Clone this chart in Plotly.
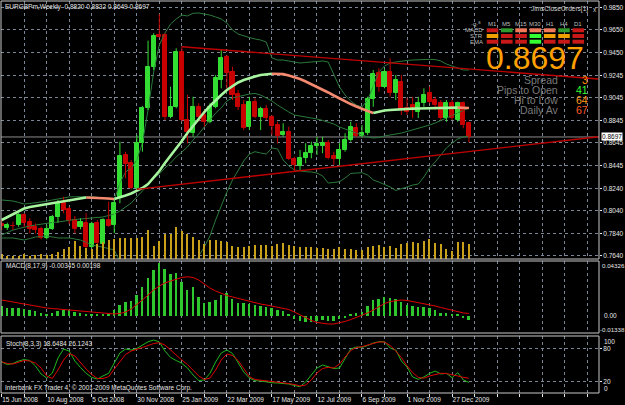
import plotly.graph_objects as go

# ---------------- data ----------------
tick_labels = ["15 Jun 2008", "10 Aug 2008", "5 Oct 2008", "30 Nov 2008", "25 Jan 2009",
               "22 Mar 2009", "17 May 2009", "12 Jul 2009", "6 Sep 2009", "1 Nov 2009", "27 Dec 2009"]

open_ = [0.7922, 0.7887, 0.7905, 0.7914, 0.8003, 0.7943, 0.7898, 0.7875, 0.7795, 0.7875,
         0.7982, 0.8112, 0.8053, 0.7958, 0.7898, 0.7934, 0.7720, 0.7929, 0.7744, 0.7958,
         0.7914, 0.8151, 0.8534, 0.8463, 0.8240, 0.8646, 0.8952, 0.9317, 0.9604, 0.9604,
         0.8877, 0.8961, 0.9456, 0.8848, 0.8730, 0.8966, 0.8893, 0.8833, 0.8966, 0.9204,
         0.9406, 0.9278, 0.9077, 0.8982, 0.8788, 0.9011, 0.8877, 0.8943, 0.8872, 0.8804,
         0.8714, 0.8739, 0.8498, 0.8439, 0.8507, 0.8552, 0.8619, 0.8619, 0.8646, 0.8528,
         0.8498, 0.8581, 0.8670, 0.8779, 0.8706, 0.8735, 0.9035, 0.9269, 0.9144, 0.9278,
         0.9086, 0.9189, 0.8955, 0.8982, 0.8922, 0.8997, 0.9086, 0.9026, 0.9002, 0.8863,
         0.9002, 0.8848, 0.9002, 0.8820]
high = [0.7958, 0.7934, 0.7943, 0.8018, 0.8018, 0.7973, 0.7929, 0.7898, 0.7914, 0.8003,
        0.8136, 0.8165, 0.8076, 0.7994, 0.7973, 0.8018, 0.7943, 0.7958, 0.7973, 0.8121,
        0.8136, 0.8655, 0.8566, 0.8492, 0.8714, 0.8973, 0.9554, 0.9620, 0.9791, 0.9620,
        0.9144, 0.9486, 0.9500, 0.9071, 0.9055, 0.8997, 0.8937, 0.8997, 0.9249, 0.9477,
        0.9427, 0.9322, 0.9115, 0.9026, 0.9055, 0.9041, 0.8966, 0.8982, 0.8893, 0.8833,
        0.8819, 0.8788, 0.8521, 0.8581, 0.8641, 0.8655, 0.8699, 0.8699, 0.8670, 0.8566,
        0.8641, 0.8730, 0.8833, 0.8819, 0.8804, 0.9055, 0.9293, 0.9308, 0.9308, 0.9397,
        0.9249, 0.9249, 0.9044, 0.9055, 0.9055, 0.9130, 0.9144, 0.9055, 0.9026, 0.9026,
        0.9026, 0.9011, 0.9011, 0.8832]
low = [0.7869, 0.7869, 0.7869, 0.7898, 0.7898, 0.7840, 0.7840, 0.7786, 0.7786, 0.7869,
       0.7934, 0.8018, 0.7922, 0.7840, 0.7875, 0.7706, 0.7706, 0.7736, 0.7727, 0.7898,
       0.7840, 0.8107, 0.8329, 0.8231, 0.8231, 0.8566, 0.8937, 0.9293, 0.9582, 0.8848,
       0.8863, 0.8952, 0.8833, 0.8641, 0.8699, 0.8833, 0.8788, 0.8819, 0.8952, 0.9130,
       0.9130, 0.9026, 0.8937, 0.8759, 0.8759, 0.8863, 0.8759, 0.8848, 0.8714, 0.8641,
       0.8699, 0.8492, 0.8394, 0.8403, 0.8463, 0.8507, 0.8537, 0.8552, 0.8498, 0.8448,
       0.8448, 0.8566, 0.8655, 0.8694, 0.8694, 0.8714, 0.8966, 0.9100, 0.9130, 0.9055,
       0.9026, 0.8893, 0.8893, 0.8866, 0.8866, 0.8966, 0.8997, 0.8937, 0.8848, 0.8833,
       0.8848, 0.8833, 0.8774, 0.8649]
close = [0.7905, 0.7914, 0.7903, 0.8003, 0.7934, 0.7875, 0.7869, 0.7795, 0.7875, 0.7982,
         0.8107, 0.8047, 0.7952, 0.7875, 0.7943, 0.7720, 0.7920, 0.7751, 0.7958, 0.7905,
         0.8107, 0.8528, 0.8456, 0.8240, 0.8646, 0.8952, 0.9317, 0.9598, 0.9589, 0.8872,
         0.8961, 0.9456, 0.8848, 0.8744, 0.8966, 0.8872, 0.8833, 0.8966, 0.9219, 0.9397,
         0.9269, 0.9071, 0.8966, 0.8779, 0.9011, 0.8877, 0.8943, 0.8863, 0.8795, 0.8706,
         0.8741, 0.8498, 0.8448, 0.8507, 0.8557, 0.8617, 0.8634, 0.8646, 0.8513, 0.8498,
         0.8581, 0.8670, 0.8788, 0.8706, 0.8735, 0.9035, 0.9257, 0.9144, 0.9278, 0.9086,
         0.9204, 0.8937, 0.8922, 0.8937, 0.9002, 0.9071, 0.9011, 0.8982, 0.8863, 0.9002,
         0.8863, 0.8997, 0.8804, 0.8697]
volume = [5, 3, 3, 3, 5, 3, 4, 5, 4, 5, 7, 10, 12, 18, 13, 11, 10, 15, 17, 19,
          20, 21, 21, 21, 21, 22, 29, 13, 18, 25, 25, 32, 28, 25, 22, 19, 15, 19, 19, 18,
          17, 13, 12, 12, 13, 14, 14, 14, 13, 15, 16, 14, 13, 12, 12, 12, 11, 11, 10, 10,
          12, 10, 10, 9, 9, 12, 13, 14, 12, 13, 11, 15, 16, 17, 16, 18, 20, 16, 15, 10,
          8, 17, 17, 15]
ma_slow = [0.7958, 0.7985, 0.8011, 0.8038, 0.8060, 0.8074, 0.8083, 0.8091, 0.8100, 0.8109,
           0.8118, 0.8127, 0.8136, 0.8142, 0.8151, 0.8158, 0.8157, 0.8156, 0.8154, 0.8149,
           0.8145, 0.8158, 0.8176, 0.8194, 0.8216, 0.8243, 0.8278, 0.8332, 0.8394, 0.8465,
           0.8528, 0.8599, 0.8661, 0.8732, 0.8795, 0.8866, 0.8919, 0.8973, 0.9026, 0.9070,
           0.9115, 0.9151, 0.9182, 0.9204, 0.9222, 0.9235, 0.9248, 0.9256, 0.9259, 0.9258,
           0.9256, 0.9244, 0.9231, 0.9213, 0.9191, 0.9168, 0.9146, 0.9119, 0.9093, 0.9066,
           0.9039, 0.9013, 0.8990, 0.8968, 0.8946, 0.8928, 0.8910, 0.8924, 0.8933, 0.8937,
           0.8941, 0.8944, 0.8946, 0.8949, 0.8950, 0.8952, 0.8953, 0.8955, 0.8956, 0.8957,
           0.8958, 0.8958, 0.8957, 0.8955]
bb_upper = [0.8136, 0.8132, 0.8127, 0.8114, 0.8100, 0.8105, 0.8109, 0.8118, 0.8127, 0.8136,
            0.8145, 0.8154, 0.8163, 0.8165, 0.8167, 0.8167, 0.8165, 0.8161, 0.8154, 0.8145,
            0.8136, 0.8287, 0.8385, 0.8421, 0.8492, 0.8643, 0.8937, 0.9275, 0.9515, 0.9622,
            0.9702, 0.9747, 0.9782, 0.9774, 0.9798, 0.9800, 0.9791, 0.9782, 0.9765, 0.9747,
            0.9711, 0.9649, 0.9613, 0.9596, 0.9582, 0.9569, 0.9560, 0.9542, 0.9400, 0.9382,
            0.9382, 0.9373, 0.9364, 0.9355, 0.9360, 0.9364, 0.9369, 0.9373, 0.9364, 0.9248,
            0.9142, 0.9070, 0.9017, 0.8981, 0.8964, 0.9026, 0.9159, 0.9275, 0.9329, 0.9355,
            0.9364, 0.9373, 0.9378, 0.9382, 0.9386, 0.9388, 0.9388, 0.9386, 0.9373, 0.9346,
            0.9329, 0.9311, 0.9293, 0.9293]
bb_middle = [0.7824, 0.7847, 0.7869, 0.7882, 0.7896, 0.7905, 0.7913, 0.7922, 0.7929, 0.7936,
             0.7940, 0.7949, 0.7958, 0.7962, 0.7967, 0.7971, 0.7976, 0.7980, 0.7985, 0.7998,
             0.8011, 0.8038, 0.8074, 0.8109, 0.8163, 0.8216, 0.8269, 0.8332, 0.8367, 0.8421,
             0.8465, 0.8519, 0.8563, 0.8608, 0.8670, 0.8723, 0.8786, 0.8848, 0.8910, 0.8955,
             0.9017, 0.9044, 0.9057, 0.9070, 0.9079, 0.9084, 0.9070, 0.9044, 0.9017, 0.8981,
             0.8946, 0.8919, 0.8892, 0.8884, 0.8875, 0.8866, 0.8857, 0.8844, 0.8830, 0.8812,
             0.8786, 0.8768, 0.8750, 0.8732, 0.8714, 0.8697, 0.8688, 0.8692, 0.8706, 0.8714,
             0.8723, 0.8732, 0.8746, 0.8759, 0.8772, 0.8786, 0.8803, 0.8821, 0.8844, 0.8866,
             0.8892, 0.8915, 0.8937, 0.8955]
bb_lower = [0.7798, 0.7798, 0.7798, 0.7789, 0.7780, 0.7793, 0.7807, 0.7811, 0.7816, 0.7807,
            0.7798, 0.7798, 0.7798, 0.7789, 0.7780, 0.7758, 0.7735, 0.7727, 0.7718, 0.7704,
            0.7691, 0.7584, 0.7531, 0.7468, 0.7406, 0.7335, 0.7246, 0.7157, 0.7086, 0.7068,
            0.7086, 0.7157, 0.7246, 0.7353, 0.7495, 0.7638, 0.7718, 0.7816, 0.7958, 0.8091,
            0.8207, 0.8314, 0.8403, 0.8483, 0.8545, 0.8566, 0.8554, 0.8545, 0.8599, 0.8590,
            0.8492, 0.8439, 0.8403, 0.8394, 0.8388, 0.8385, 0.8376, 0.8350, 0.8287, 0.8292,
            0.8299, 0.8332, 0.8372, 0.8376, 0.8379, 0.8358, 0.8314, 0.8296, 0.8274, 0.8252,
            0.8221, 0.8234, 0.8252, 0.8269, 0.8278, 0.8341, 0.8421, 0.8474, 0.8536, 0.8599,
            0.8643, 0.8679, 0.8697, 0.8706]
trend_upper_x = [32, 106]
trend_upper_y = [0.9500, 0.9213]
trend_lower_x = [24, 106]
trend_lower_y = [0.8231, 0.8699]

macd_main = [0.0079, 0.0061, 0.0061, 0.0061, 0.0053, 0.0047, 0.0039, 0.0021, 0.0008, 0.0026,
             0.0042, 0.0047, 0.0047, 0.0034, 0.0021, 0.0008, 0.0016, 0.0013, 0.0008, 0.0008,
             0.0047, 0.0087, 0.0113, 0.0120, 0.0165, 0.0231, 0.0297, 0.0362, 0.0419, 0.0367,
             0.0330, 0.0336, 0.0270, 0.0205, 0.0231, 0.0152, 0.0100, 0.0113, 0.0126, 0.0165,
             0.0179, 0.0131, 0.0100, 0.0100, 0.0094, 0.0087, 0.0079, 0.0071, 0.0063, 0.0047,
             0.0039, 0.0016, -0.0024, -0.0039, -0.0047, -0.0047, -0.0039, -0.0031, -0.0039, -0.0039,
             -0.0024, -0.0008, 0.0016, 0.0024, 0.0031, 0.0079, 0.0126, 0.0134, 0.0149, 0.0142,
             0.0134, 0.0110, 0.0087, 0.0079, 0.0071, 0.0071, 0.0063, 0.0047, 0.0024, 0.0024,
             0.0008, 0.0008, -0.0008, -0.00345]
macd_signal = [0.0126, 0.0118, 0.0110, 0.0102, 0.0091, 0.0083, 0.0075, 0.0067, 0.0063, 0.0059,
               0.0055, 0.0050, 0.0047, 0.0043, 0.0039, 0.0035, 0.0031, 0.0028, 0.0024, 0.0020,
               0.0016, 0.0020, 0.0031, 0.0055, 0.0087, 0.0126, 0.0165, 0.0205, 0.0236, 0.0260,
               0.0275, 0.0291, 0.0303, 0.0309, 0.0303, 0.0283, 0.0252, 0.0220, 0.0197, 0.0177,
               0.0161, 0.0150, 0.0138, 0.0126, 0.0113, 0.0102, 0.0094, 0.0087, 0.0079, 0.0071,
               0.0063, 0.0051, 0.0031, 0.0008, -0.0016, -0.0035, -0.0051, -0.0059, -0.0063, -0.0063,
               -0.0055, -0.0043, -0.0028, -0.0012, 0.0004, 0.0024, 0.0047, 0.0075, 0.0098, 0.0114,
               0.0122, 0.0126, 0.0122, 0.0114, 0.0106, 0.0098, 0.0091, 0.0079, 0.0067, 0.0055,
               0.0043, 0.0031, 0.0024, 0.00198]
stoch_k = [55.3, 50.8, 52.6, 57.1, 59.8, 58.0, 48.1, 33.8, 26.6, 35.5,
           62.5, 78.6, 75.0, 57.1, 45.4, 35.0, 27.5, 24.8, 30.2, 35.0,
           53.5, 71.5, 78.6, 76.8, 79.5, 84.9, 91.7, 94.8, 91.2, 75.0,
           63.4, 58.0, 53.0, 44.5, 32.0, 22.1, 23.0, 35.0, 55.3, 71.5,
           76.8, 70.6, 53.5, 37.3, 26.6, 21.7, 21.2, 19.4, 18.1, 17.6,
           17.1, 15.8, 13.1, 11.0, 19.4, 32.0, 44.5, 49.9, 47.2, 43.6,
           44.5, 62.5, 78.6, 82.2, 81.7, 84.9, 89.4, 91.7, 91.7, 80.4,
           76.8, 57.1, 46.3, 28.4, 24.2, 28.4, 34.6, 39.1, 33.8, 35.0,
           27.1, 36.1, 23.0, 18.6484]
stoch_d = [55.8, 52.6, 51.7, 55.3, 58.0, 57.1, 53.5, 44.5, 30.2, 25.7,
           40.9, 58.9, 70.9, 66.1, 53.5, 42.7, 32.9, 25.7, 25.7, 28.9,
           42.7, 55.3, 68.8, 75.0, 77.7, 81.3, 84.9, 88.5, 89.9, 85.8,
           76.8, 67.0, 58.9, 50.8, 40.9, 30.2, 23.9, 26.6, 40.9, 58.9,
           69.7, 67.0, 58.0, 42.7, 28.9, 23.9, 22.4, 21.2, 20.3, 19.0,
           18.0, 16.7, 14.9, 12.2, 14.0, 23.0, 35.5, 43.6, 45.8, 44.5,
           51.7, 64.3, 75.9, 81.3, 82.8, 85.8, 88.5, 91.2, 91.2, 84.9,
           75.0, 63.4, 48.1, 36.4, 27.5, 26.2, 30.2, 32.9, 35.0, 34.6,
           32.9, 30.2, 27.8, 26.1243]

price_ticks = [0.9850, 0.9650, 0.9450, 0.9245, 0.9045, 0.8845, 0.8645, 0.8445, 0.8240, 0.8040, 0.7840, 0.7640]

panel_timeframes = ["M1", "M5", "M15", "M30", "H1", "H4", "D1"]
panel_rows = ["MACD", "STR", "EMA"]
panel_states = [
    ["red", "dgreen", "salmon", "salmon", "salmon", "dgreen", "red"],
    ["orange", "red", "red", "lime", "orange", "orange", "red"],
    ["red", "red", "red", "lime", "red", "red", "red"],
]
info_labels = ["Spread", "Pips to Open", "Hi to Low", "Daily Av"]
info_values = ["3", "41", "64", "67"]

# ---------------- geometry / style ----------------
W, H = 625, 405
ML, MR, MT, MB = 1, 26, 1, 12
PW, PH = W - ML - MR, H - MT - MB
BOT = H - MB


def pxx(x):
    return (x - ML) / PW


def pxy(y):
    return (BOT - y) / PH


FONT = "Liberation Sans, Arial, sans-serif"
TXT = "#e6e6e6"
GRID = "#7a8696"
BULL = "#33dd33"
BEAR = "#c80000"
BBC = "#2b7a3c"
VOLC = "#c9a019"
STATE_COL = {"red": "#c81818", "dgreen": "#2f9a2f", "salmon": "#f07a5a",
             "lime": "#33ff33", "orange": "#f0a000"}

n = len(close)
idx = list(range(n))

fig = go.Figure()

# volume (overlay axis)
fig.add_trace(go.Bar(x=idx, y=volume, width=0.2, marker=dict(color=VOLC, line=dict(width=0)),
                     xaxis="x", yaxis="y4", hoverinfo="skip"))

# Bollinger bands
for band in (bb_upper, bb_middle, bb_lower):
    fig.add_trace(go.Scatter(x=idx, y=band, mode="lines", line=dict(color=BBC, width=1),
                             xaxis="x", yaxis="y", hoverinfo="skip"))

# candle wicks
for is_bull, col in ((True, BULL), (False, BEAR)):
    wx, wy = [], []
    for i in idx:
        if (close[i] >= open_[i]) == is_bull:
            wx += [i, i, None]
            wy += [low[i], high[i], None]
    fig.add_trace(go.Scatter(x=wx, y=wy, mode="lines", line=dict(color=col, width=1),
                             xaxis="x", yaxis="y", hoverinfo="skip"))

# candle bodies
for is_bull, col in ((True, BULL), (False, BEAR)):
    bx, bb, bh = [], [], []
    for i in idx:
        if (close[i] >= open_[i]) == is_bull:
            bx.append(i)
            bb.append(min(open_[i], close[i]))
            bh.append(abs(close[i] - open_[i]))
    fig.add_trace(go.Bar(x=bx, y=bh, base=bb, width=0.72,
                         marker=dict(color=col, line=dict(color=col, width=1)),
                         xaxis="x", yaxis="y", hoverinfo="skip"))

# slow MA coloured by direction
segs = []
cur = None
for k in range(1, n):
    d = ma_slow[k] >= ma_slow[k - 1]
    if d != cur:
        segs.append((d, [k - 1, k]))
        cur = d
    else:
        segs[-1][1].append(k)
for d, ks in segs:
    fig.add_trace(go.Scatter(x=ks, y=[ma_slow[k] for k in ks], mode="lines",
                             line=dict(color="#a8f5a0" if d else "#f58a70", width=2.6),
                             xaxis="x", yaxis="y", hoverinfo="skip"))

# trend lines
for tx, ty in ((trend_upper_x, trend_upper_y), (trend_lower_x, trend_lower_y)):
    fig.add_trace(go.Scatter(x=tx, y=ty, mode="lines", line=dict(color="#c00000", width=1.3),
                             xaxis="x", yaxis="y", hoverinfo="skip"))

# MACD
fig.add_trace(go.Bar(x=idx, y=macd_main, width=0.35, marker=dict(color="#2ec82e", line=dict(width=0)),
                     xaxis="x2", yaxis="y2", hoverinfo="skip"))
fig.add_trace(go.Scatter(x=idx, y=macd_signal, mode="lines", line=dict(color="#e00000", width=1),
                         xaxis="x2", yaxis="y2", hoverinfo="skip"))

# Stochastic
fig.add_trace(go.Scatter(x=idx, y=stoch_k, mode="lines", line=dict(color="#1fb81f", width=1),
                         xaxis="x3", yaxis="y3", hoverinfo="skip"))
fig.add_trace(go.Scatter(x=idx, y=stoch_d, mode="lines", line=dict(color="#e00000", width=1),
                         xaxis="x3", yaxis="y3", hoverinfo="skip"))

# ---------------- axes ----------------
xgrid = list(range(0, 105, 4))
xtext = [tick_labels[v // 8] if (v % 8 == 0 and v // 8 < len(tick_labels)) else "" for v in xgrid]
xcommon = dict(range=[-0.12, 106.1], showgrid=True, gridcolor=GRID, griddash="3px,3px", gridwidth=1,
               zeroline=False, showline=False, tickmode="array", tickvals=xgrid, automargin=False)

dom_main = [pxy(259), pxy(1)]
dom_macd = [pxy(333), pxy(261)]
dom_sto = [pxy(393), pxy(336)]

fig.update_layout(
    width=W, height=H,
    margin=dict(l=ML, r=MR, t=MT, b=MB, autoexpand=False),
    paper_bgcolor="black", plot_bgcolor="black",
    showlegend=False, barmode="overlay", bargap=0,
    font=dict(family=FONT, size=6.5, color=TXT),
    xaxis=dict(**xcommon, anchor="y", showticklabels=False, ticks=""),
    xaxis2=dict(**xcommon, anchor="y2", matches="x", showticklabels=False, ticks=""),
    xaxis3=dict(**xcommon, anchor="y3", matches="x", ticktext=xtext, showticklabels=True,
                ticks="outside", ticklen=3, tickcolor=TXT, ticklabelposition="outside right",
                tickangle=0, tickfont=dict(size=6.5, color=TXT, family=FONT)),
    yaxis=dict(domain=dom_main, range=[0.76109, 0.99071], side="right", tickmode="array",
               tickvals=price_ticks, ticktext=["%.4f" % v for v in price_ticks],
               showgrid=True, gridcolor=GRID, griddash="3px,3px", zeroline=False, automargin=False,
               ticks="outside", ticklen=2, tickcolor=TXT, tickfont=dict(size=6.5, color=TXT)),
    yaxis4=dict(overlaying="y", range=[0, 258], visible=False, showgrid=False, automargin=False),
    yaxis2=dict(domain=dom_macd, range=[-0.01338, 0.04329], side="right", showticklabels=False,
                showgrid=False, zeroline=False, ticks="", automargin=False),
    yaxis3=dict(domain=dom_sto, range=[-0.36, 102], side="right", tickmode="array",
                tickvals=[20, 80], ticktext=["20", "80"], showgrid=True, gridcolor=GRID,
                griddash="3px,3px", zeroline=False, ticks="outside", ticklen=2, tickcolor=TXT,
                automargin=False, tickfont=dict(size=6.5, color=TXT)),
)

shapes = []
for d in (dom_main, dom_macd, dom_sto):
    shapes.append(dict(type="rect", xref="paper", yref="paper", x0=0, x1=1, y0=d[0], y1=d[1],
                       line=dict(color="#c8c8c8", width=1), fillcolor="rgba(0,0,0,0)", layer="above"))
# bid line at last close
shapes.append(dict(type="line", xref="paper", yref="y", x0=0, x1=1, y0=close[-1], y1=close[-1],
                   line=dict(color="#8c8c8c", width=1), layer="below"))

# indicator panel cells
col_left0, col_step, cell_w = 486.7, 14.3, 11.6
row_tops = [28.3, 34.0, 39.7]
for r, states in enumerate(panel_states):
    for c, st in enumerate(states):
        x0 = col_left0 + c * col_step
        shapes.append(dict(type="rect", xref="paper", yref="paper",
                           x0=pxx(x0), x1=pxx(x0 + cell_w), y0=pxy(row_tops[r] + 4), y1=pxy(row_tops[r]),
                           line=dict(width=0), fillcolor=STATE_COL[st], layer="above"))
fig.update_layout(shapes=shapes)

ann = []


def txt(x, y, s, size=6.5, color=TXT, xanchor="left", bg=None):
    d = dict(x=pxx(x), y=pxy(y), xref="paper", yref="paper", text=s, showarrow=False,
             xanchor=xanchor, yanchor="middle", font=dict(size=size, color=color, family=FONT))
    if bg:
        d["bgcolor"] = bg
        d["borderpad"] = 0
    ann.append(d)


txt(3, 7, "EURGBPm,Weekly  %.4f %.4f %.4f %.4f" % (open_[-1], high[-1], low[-1], close[-1]))
txt(4, 266, "MACD(8,17,9) %.5f %.5f" % (macd_main[-1], macd_signal[-1]))
txt(4, 344, "Stoch(8,3,3) %.4f %.4f" % (stoch_k[-1], stoch_d[-1]))
txt(3, 387.5, "Interbank FX Trader 4, © 2001-2009 MetaQuotes Software Corp.")
# right-side labels
txt(600, 265, "0.04326", size=6.2)
txt(601.5, 315, "0.00")
txt(597.5, 329, "-0.01338", size=6.2)
txt(601.5, 341, "100")
txt(601.5, 388.5, "0")
ann.append(dict(x=pxx(600.5), y=close[-1], xref="paper", yref="y", text="%.4f" % close[-1],
                showarrow=False, xanchor="left", yanchor="middle", bgcolor="#ffffff", borderpad=0,
                font=dict(size=6.5, color="black", family=FONT)))
# indicator panel
txt(529, 9.5, "JimsCloseOrders[1]", color="#d0d0d0")
txt(591, 9.5, "x", color="#d0d0d0")
txt(476, 23.5, "·q·ª", size=6, color="#bdbdbd", xanchor="center")
for c, tf in enumerate(panel_timeframes):
    txt(col_left0 + c * col_step + cell_w / 2, 23.5, tf, size=6, color="#bdbdbd", xanchor="center")
for r, name in enumerate(panel_rows):
    txt(485, row_tops[r] + 2, name, size=6, color="#bdbdbd", xanchor="right")
txt(535, 58.5, "%.4f" % close[-1], size=32, color="#ffa000", xanchor="center")
val_cols = ["#ff8c00", "#33ff33", "#ff9a1a", "#ff5a28"]
for r, (lab, val) in enumerate(zip(info_labels, info_values)):
    yy = 79.5 + r * 10.2
    txt(560, yy, lab, size=10.5, color="#7a7a7a", xanchor="right")
    txt(590, yy, val, size=10.5, color=val_cols[r], xanchor="right")

fig.update_layout(annotations=ann)

fig.write_html("out.html")
